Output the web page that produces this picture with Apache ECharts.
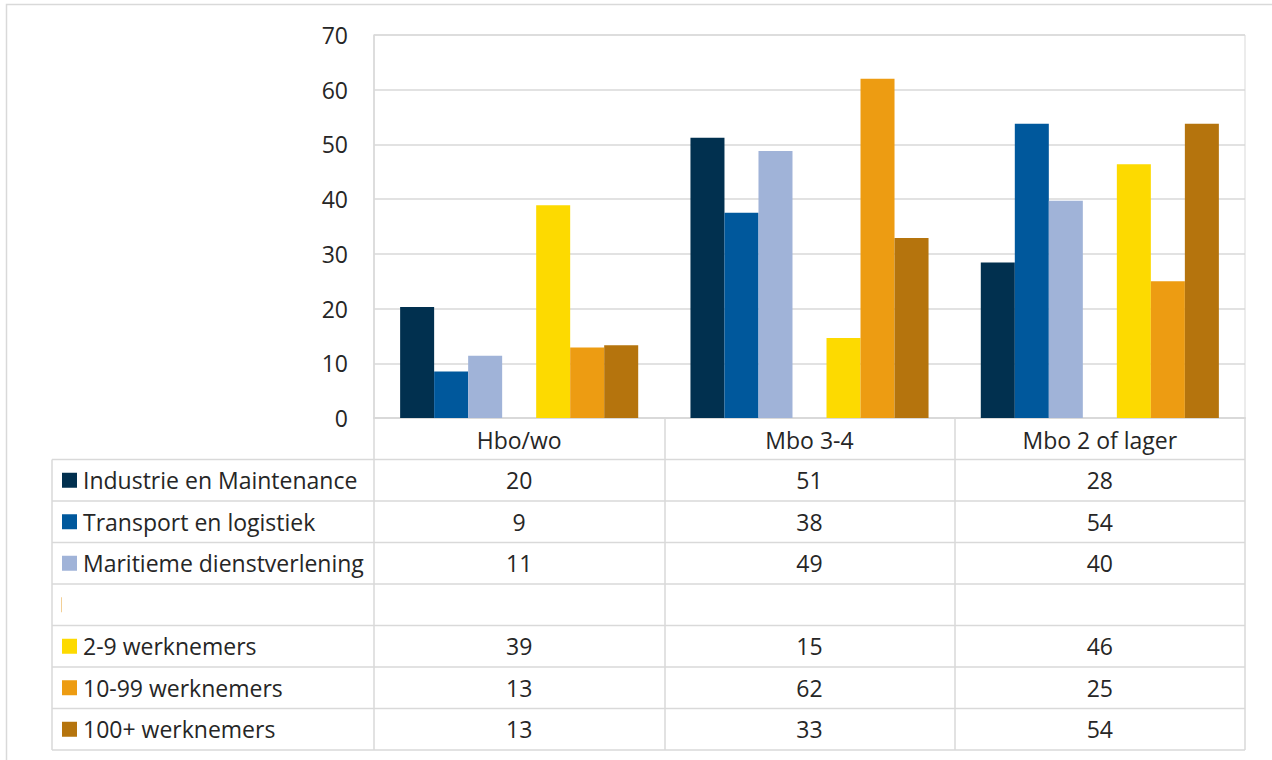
<!DOCTYPE html>
<html><head><meta charset="utf-8">
<script src="https://cdn.jsdelivr.net/npm/echarts@6/dist/echarts.min.js"></script>
<style>html,body{margin:0;padding:0;background:#fff}#c{width:1272px;height:760px}</style>
</head><body><div id="c"></div>
<script>
// ---- data ----
const categories = ['Hbo/wo', 'Mbo 3-4', 'Mbo 2 of lager'];
const seriesNames = ['Industrie en Maintenance', 'Transport en logistiek', 'Maritieme dienstverlening', '', '2-9 werknemers', '10-99 werknemers', '100+ werknemers'];
const industrie = [20.3, 51.2, 28.4];
const transport = [8.5, 37.5, 53.8];
const maritiem = [11.4, 48.8, 39.7];
const leeg = [null, null, null];
const werknemers2_9 = [38.9, 14.6, 46.4];
const werknemers10_99 = [12.9, 62.0, 25.0];
const werknemers100 = [13.3, 32.9, 53.8];
const yMin = 0, yMax = 70, yStep = 10;

const seriesData = [industrie, transport, maritiem, leeg, werknemers2_9, werknemers10_99, werknemers100];
const colors = ['#01304F', '#00589C', '#A0B3D8', '#F2CF96', '#FDDA00', '#ED9C12', '#B5740D'];

const FONT = '"Open Sans", "Noto Sans", sans-serif';
const FS = 23;
const TXT = '#262626';
const LINE = '#d9d9d9';

const gridLeft = 374, gridTop = 35, gridW = 871, gridH = 383;
const rowH = 41.5;
const tableLeft = 52;

const chart = echarts.init(document.getElementById('c'), null, {renderer: 'svg'});

const option = {
  animation: false,
  backgroundColor: '#fff',
  textStyle: {fontFamily: FONT},
  grid: {left: gridLeft, top: gridTop, width: gridW, height: gridH, show: true, borderColor: LINE, borderWidth: 1},
  xAxis: {
    type: 'category', data: categories,
    axisLine: {show: true, lineStyle: {color: LINE, width: 2}},
    axisTick: {show: true, length: 332, lineStyle: {color: LINE, width: 1.5}},
    axisLabel: {fontSize: FS, color: TXT, fontFamily: FONT, margin: 22, verticalAlign: 'middle', lineHeight: 24}
  },
  yAxis: {
    type: 'value', min: yMin, max: yMax, interval: yStep,
    axisLine: {show: true, lineStyle: {color: LINE, width: 1.5}},
    axisTick: {show: false},
    splitLine: {lineStyle: {color: LINE, width: 1.5}},
    axisLabel: {fontSize: FS, color: TXT, fontFamily: FONT, margin: 26}
  },
  series: seriesData.map((d, i) => ({
    name: seriesNames[i] || ('leeg'),
    type: 'bar',
    data: d,
    barGap: '0%',
    barCategoryGap: '18%',
    itemStyle: {color: colors[i]}
  }))
};
chart.setOption(option);

// ---- data table below the plot ----
const graphics = [];
graphics.push({type: 'rect', shape: {x: 6.5, y: 4.5, width: 1400, height: 900}, style: {fill: 'none', stroke: LINE, lineWidth: 1.5}, silent: true, z: -10});

const axisY = gridTop + gridH;
const tableTop = axisY + rowH;
const nRows = seriesNames.length;
const tableBottom = tableTop + nRows * rowH;
const rightX = gridLeft + gridW;

for (let r = 0; r <= nRows; r++) {
  const y = tableTop + r * rowH;
  graphics.push({type: 'line', shape: {x1: tableLeft, y1: y, x2: rightX, y2: y}, style: {stroke: LINE, lineWidth: 1.5}, silent: true});
}
graphics.push({type: 'line', shape: {x1: tableLeft, y1: tableTop, x2: tableLeft, y2: tableBottom}, style: {stroke: LINE, lineWidth: 1.5}, silent: true});

seriesNames.forEach((name, r) => {
  const cy = tableTop + r * rowH + rowH / 2;
  if (name) {
    graphics.push({type: 'rect', shape: {x: 62, y: cy - 7.5, width: 15, height: 15}, style: {fill: colors[r]}, silent: true});
    graphics.push({type: 'text', x: 83, y: cy, style: {text: name, font: FS + 'px ' + FONT, fill: TXT, textVerticalAlign: 'middle', verticalAlign: 'middle', textAlign: 'left', align: 'left'}, silent: true});
  } else {
    graphics.push({type: 'line', shape: {x1: 61.5, y1: cy - 7.5, x2: 61.5, y2: cy + 7.5}, style: {stroke: colors[r], lineWidth: 1}, silent: true});
  }
  seriesData[r].forEach((v, c) => {
    if (v === null) return;
    const cx = chart.convertToPixel({xAxisIndex: 0}, c);
    graphics.push({type: 'text', x: cx, y: cy, style: {text: String(Math.round(v)), font: FS + 'px ' + FONT, fill: TXT, align: 'center', textAlign: 'center', verticalAlign: 'middle', textVerticalAlign: 'middle'}, silent: true});
  });
});

chart.setOption({graphic: graphics});
</script>
</body></html>
